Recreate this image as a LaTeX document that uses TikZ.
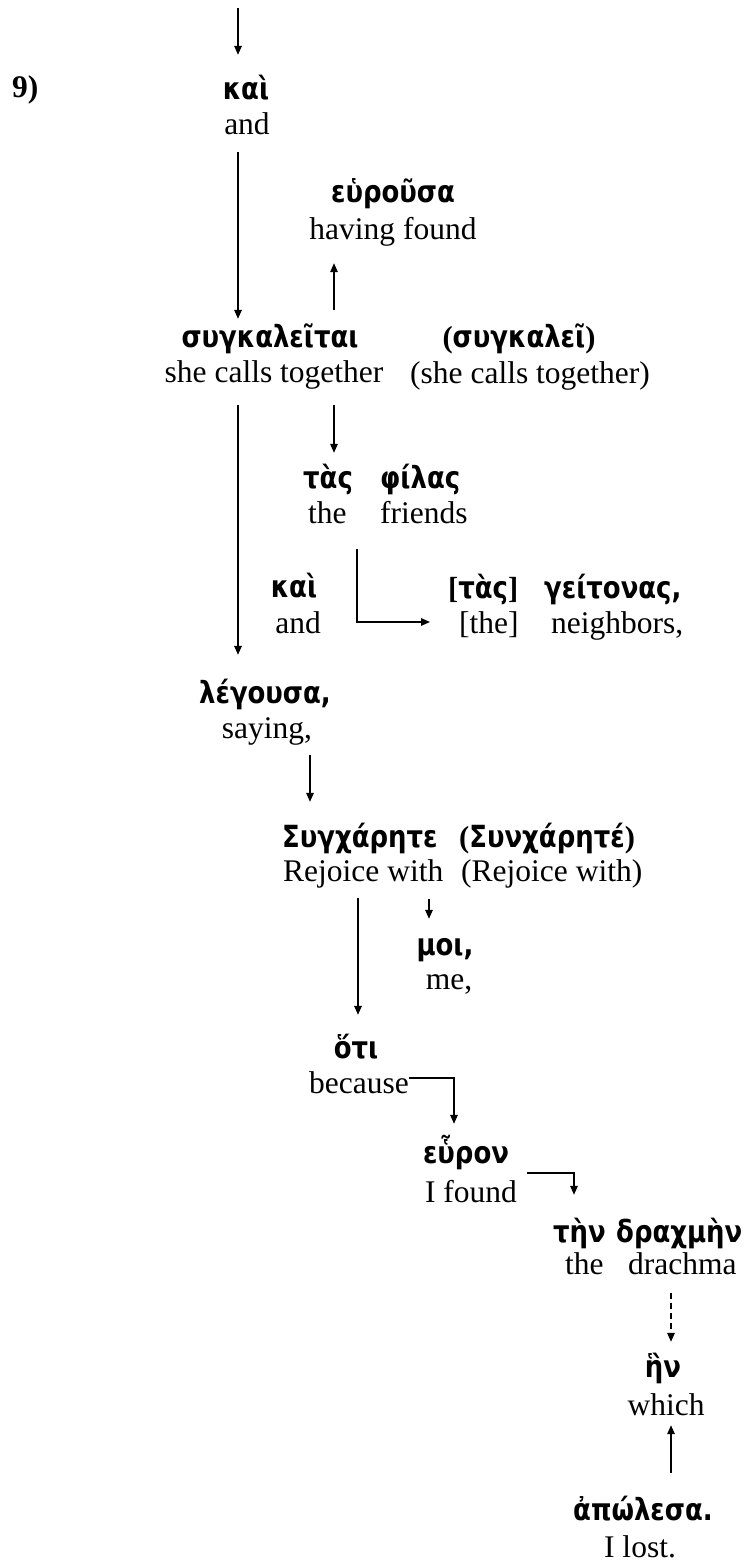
\documentclass[tikz,border=0pt]{standalone}
\usepackage{fontspec}
\setmainfont{Liberation Serif}
\newfontfamily\grk[FakeStretch=0.85]{DejaVu Sans}
\usetikzlibrary{arrows.meta}
\newcommand\srf[1]{{\rmfamily\bfseries #1}}
\begin{document}
\begin{tikzpicture}[x=1pt,y=-1pt,
  en/.style={font=\fontsize{31.5}{36}\selectfont, inner sep=0pt, text height=22pt, text depth=7pt, anchor=base},
  enw/.style={en, anchor=base west},
  gr/.style={font=\grk\bfseries\fontsize{30.5}{36}\selectfont, inner sep=0pt, text height=22pt, text depth=7pt, anchor=base},
  grw/.style={gr, anchor=base west},
  numlbl/.style={font=\bfseries\fontsize{31.5}{36}\selectfont, inner sep=0pt, anchor=base west},
  arr/.style={line width=1.4pt, -{Triangle[length=9pt,width=7.5pt]}},
  dsh/.style={dash pattern=on 6pt off 4pt}]
\useasboundingbox (0,0) rectangle (745,1562);
% columns
\coordinate (top) at (238,8);
\coordinate (c310) at (310,0);
\coordinate (c334) at (334,0);
\coordinate (c357) at (357,0);
\coordinate (c358) at (358,0);
\coordinate (c429) at (429,0);
\coordinate (c454) at (454,0);
\coordinate (c574) at (574,0);
\coordinate (c671) at (671,0);
% texts
\node[numlbl] (num) at (12,98) {9)};
\node[gr] (kai1) at (246,100) {καὶ};
\node[en] (and1) at (247,135) {and};
\node[gr] (heur) at (393,203) {εὑροῦσα};
\node[en] (havf) at (393,240) {having found};
\node[gr] (sygk) at (270,347) {συγκαλεῖται};
\node[en] (shec) at (274,382) {she calls together};
\node[gr] (sygk2) at (519,347) {\srf{(}συγκαλεῖ\srf{)}};
\node[en] (shec2) at (530,383) {(she calls together)};
\node[grw] (tas) at (303,488) {τὰς};
\node[grw] (filas) at (380,488) {φίλας};
\node[enw] (the1) at (308,523) {the};
\node[enw] (friends) at (380,523) {friends};
\node[gr] (kai2) at (294,597) {καὶ};
\node[en] (and2) at (298,633) {and};
\node[grw] (tas2) at (448,598) {\srf{[}τὰς\srf{]}};
\node[grw] (geit) at (544,598) {γείτονας,};
\node[enw] (the2) at (459,633) {[the]};
\node[enw] (neigh) at (551,633) {neighbors,};
\node[gr] (leg) at (265,703) {λέγουσα,};
\node[en] (say) at (267,738) {saying,};
\node[grw] (syg) at (282,847) {Συγχάρητε};
\node[grw] (syn) at (459,847) {\srf{(}Συνχάρητέ\srf{)}};
\node[enw] (rej) at (283,881) {Rejoice with};
\node[enw] (rej2) at (461,881) {(Rejoice with)};
\node[gr] (moi) at (445,955) {μοι,};
\node[en] (me) at (449,989) {me,};
\node[gr] (hoti) at (356,1058) {ὅτι};
\node[en] (because) at (359,1093) {because};
\node[gr] (heuron) at (466,1163) {εὗρον};
\node[en] (ifound) at (471,1202) {I found};
\node[grw] (ten) at (553,1242) {τὴν};
\node[grw] (drach) at (616,1242) {δραχμὴν};
\node[enw] (the3) at (565,1274) {the};
\node[enw] (drachma) at (628,1274) {drachma};
\node[gr] (hen) at (663,1377) {ἣν};
\node[en] (which) at (666,1415) {which};
\node[gr] (apol) at (643,1520) {ἀπώλεσα.};
\node[en] (ilost) at (640,1557) {I lost.};
% connectors
\draw[arr, shorten >=23pt] (top) -- (kai1.north -| top);
\draw[arr, shorten <=10pt, shorten >=6pt] (and1.south -| top) -- (sygk.north -| top);
\draw[arr, shorten <=15pt, shorten >=16pt] (sygk.north -| c334) -- (havf.south -| c334);
\draw[arr, shorten <=16pt, shorten >=26pt] (shec.south -| top) -- (leg.north -| top);
\draw[arr, shorten <=16pt, shorten >=13pt] (shec.south -| c334) -- (tas.north -| c334);
\draw[arr, shorten <=19pt, shorten >=29pt] (friends.south -| c357) |- ([yshift=3.5pt]the2.west);
\draw[arr, shorten <=10pt, shorten >=23pt] (say.south -| c310) -- (syg.north -| c310);
\draw[arr, shorten <=10pt, shorten >=21pt] (rej.south -| c358) -- (hoti.north -| c358);
\draw[arr, shorten <=11pt, shorten >=14pt] (rej2.south -| c429) -- (moi.north -| c429);
\draw[arr, shorten >=17pt] ([yshift=7.5pt]because.east) -| (heuron.north -| c454);
\draw[arr, shorten <=10pt, shorten >=25pt] ([yshift=21.5pt]ifound.east) -| (ten.north -| c574);
\draw[arr, dsh, shorten <=12pt, shorten >=13pt] (drachma.south -| c671) -- (hen.north -| c671);
\draw[arr, shorten <=25pt, shorten >=3pt] (apol.north -| c671) -- (which.south -| c671);
\end{tikzpicture}
\end{document}
